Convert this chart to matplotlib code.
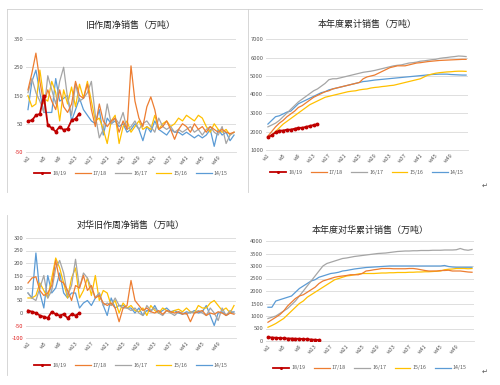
import matplotlib
matplotlib.use("Agg")
import matplotlib.pyplot as plt
import numpy as np
from matplotlib.lines import Line2D

plt.rcParams['font.family'] = ['Noto Sans CJK SC', 'DejaVu Sans']

# 年度标签和颜色
seasons = ['18/19', '17/18', '16/17', '15/16', '14/15']
colors = ['#C00000', '#ED7D31', '#A5A5A5', '#FFC000', '#5B9BD5']
week_labels = ['w%d' % w for w in range(1, 53, 4)]

# 旧作周净销售
weekly_1819 = [60, 62, 80, 85, 150, 45, 35, 22, 40, 28, 32, 62, 68, 86]
weekly_1718 = [170, 230, 300, 200, 120, 170, 130, 100, 170, 110, 90, 120, 200, 150, 140, 190, 100, 40,
               120, 60, 40, 60, 70, 20, 60, 30, 255, 130, 70, 40, 110, 145, 100, 30, 40, 60, 30, -5,
               30, 50, 40, 20, 50, 30, 40, 20, 40, 30, 20, 30, 20, 15, 20]
weekly_1617 = [160, 210, 160, 130, 90, 220, 170, 120, 200, 250, 140, 80, 190, 130, 140, 160, 200, 80,
               0, 30, 120, 50, 70, 50, 90, 30, 40, 60, 30, 50, 60, 40, 20, 70, 40, 30, 40, 20,
               30, 20, 30, 40, 20, 30, 10, 30, 40, 20, 10, 40, -20, 10, 20]
weekly_1516 = [150, 110, 120, 240, 140, 130, 200, 160, 60, 170, 120, 180, 110, 190, 140, 200, 130, 60,
               70, 30, -20, 60, 80, -20, 40, 60, 20, 40, 60, 30, 40, 30, 80, 30, 50, 60, 40, 50,
               70, 60, 80, 70, 60, 80, 70, 40, 20, 50, 30, 20, 30, 10, 20]
weekly_1415 = [100, 200, 240, 160, 90, 90, 90, 210, 130, 140, 150, 60, 100, 140, 100, 80, 60, 50,
               100, 10, 70, 50, 60, 40, 50, 20, 30, 50, 30, -10, 40, 20, 60, 30, 20, 10, 30, 20,
               20, 10, 20, 10, 0, 10, 0, 10, 30, -30, 30, 10, 20, -10, 10]

# 本年度累计销售
cum_1819 = [1700, 1800, 1950, 2050, 2050, 2100, 2100, 2150, 2200, 2200, 2250, 2300, 2350, 2400]
cum_1718 = [1750, 2000, 2250, 2450, 2600, 2800, 2950, 3100, 3300, 3400, 3550, 3700, 3850, 3950, 4050,
            4150, 4200, 4300, 4350, 4400, 4450, 4500, 4550, 4600, 4650, 4850, 4950, 5000, 5050, 5150,
            5250, 5350, 5450, 5500, 5550, 5550, 5550, 5600, 5650, 5700, 5720, 5750, 5780, 5800, 5820,
            5840, 5850, 5860, 5870, 5880, 5890, 5900, 5900]
cum_1617 = [2250, 2350, 2450, 2600, 2800, 3000, 3200, 3400, 3600, 3750, 3900, 4050, 4200, 4300, 4450,
            4600, 4800, 4850, 4850, 4900, 4950, 5000, 5050, 5100, 5150, 5200, 5230, 5260, 5300, 5350,
            5400, 5450, 5500, 5550, 5580, 5600, 5650, 5700, 5720, 5750, 5800, 5820, 5850, 5880, 5900,
            5950, 5980, 6000, 6030, 6050, 6080, 6070, 6050]
cum_1516 = [1650, 1800, 2000, 2200, 2400, 2550, 2700, 2850, 3000, 3150, 3300, 3450, 3550, 3650, 3750,
            3850, 3900, 3950, 4000, 4050, 4100, 4150, 4180, 4200, 4250, 4280, 4300, 4350, 4380, 4400,
            4430, 4450, 4480, 4500, 4550, 4600, 4650, 4700, 4750, 4800, 4850, 4950, 5050, 5100, 5150,
            5180, 5200, 5220, 5230, 5250, 5260, 5260, 5250]
cum_1415 = [2400, 2600, 2800, 2850, 2950, 3050, 3100, 3300, 3500, 3600, 3700, 3800, 3900, 4000, 4100,
            4150, 4250, 4300, 4350, 4400, 4450, 4500, 4550, 4600, 4650, 4700, 4720, 4750, 4780, 4800,
            4820, 4840, 4860, 4880, 4900, 4920, 4940, 4960, 4980, 5000, 5020, 5040, 5060, 5080, 5090,
            5100, 5100, 5100, 5080, 5070, 5060, 5050, 5050]

# 对华旧作周净销售
cn_weekly_1819 = [10, 5, 0, -10, -15, -20, 5, -5, -10, -5, -20, -5, -10, 0]
cn_weekly_1718 = [120, 140, 145, 90, 70, 80, 110, 210, 130, 120, 90, 50, 110, 100, 150, 90, 110, 60,
                  70, 40, 30, 40, 20, -35, 20, 30, 130, 50, 30, 10, 20, 5, 0, 10, -5, 10, 5, 0,
                  5, -5, 0, -35, 0, 5, 10, -10, 0, -5, 5, 0, -10, 0, -5]
cn_weekly_1617 = [80, 60, 50, 100, 150, 60, 90, 180, 210, 160, 70, 110, 215, 100, 160, 140, 100, 60,
                  80, 30, 40, 30, 60, 30, 20, 20, 10, 20, 0, -10, 30, 10, 20, 0, -10, 10, 0, -10,
                  5, 0, -5, 5, 0, 10, 0, -10, 20, 0, -30, 20, -10, 10, 0]
cn_weekly_1516 = [60, 60, 70, 120, 90, 60, 140, 220, 180, 120, 60, 140, 180, 60, 90, 140, 70, 150,
                  50, 90, 80, 30, 50, 0, 40, 20, 30, 10, 5, 20, -10, 30, 10, 0, 20, 10, 0, 10,
                  15, 5, 20, 5, 0, 30, 20, 20, 40, 50, 30, 10, 20, 0, 30]
cn_weekly_1415 = [80, 60, 240, 80, 20, 150, 80, 100, 160, 80, 60, 80, 80, 20, 40, 50, 30, 60,
                  80, 30, -10, 60, 20, 30, 30, 20, 20, 0, 20, -10, 10, 5, 30, 0, 10, 20, 5, 10,
                  0, -5, 5, 0, 10, 0, 5, 30, -10, -50, 0, 5, -10, 0, 5]

# 本年度对华累计销售
cn_cum_1819 = [150, 140, 130, 120, 110, 100, 100, 90, 90, 80, 70, 60, 50, 40]
cn_cum_1718 = [750, 850, 950, 1050, 1200, 1400, 1550, 1700, 1800, 1850, 1950, 2050, 2150, 2300, 2400,
               2450, 2500, 2550, 2580, 2600, 2620, 2650, 2650, 2650, 2700, 2800, 2820, 2850, 2870, 2900,
               2900, 2900, 2890, 2890, 2890, 2890, 2900, 2900, 2880, 2850, 2820, 2800, 2800, 2800, 2820,
               2820, 2830, 2800, 2800, 2800, 2780, 2760, 2750]
cn_cum_1617 = [900, 950, 1000, 1100, 1200, 1300, 1450, 1600, 1800, 2000, 2200, 2400, 2600, 2800, 3000,
               3100, 3150, 3200, 3250, 3300, 3320, 3350, 3380, 3400, 3420, 3440, 3460, 3480, 3500, 3510,
               3520, 3540, 3560, 3580, 3590, 3600, 3600, 3610, 3610, 3620, 3620, 3620, 3630, 3630, 3630,
               3640, 3640, 3640, 3650, 3700, 3650, 3630, 3660]
cn_cum_1516 = [550, 620, 700, 800, 900, 1050, 1200, 1350, 1500, 1600, 1750, 1850, 1950, 2050, 2150,
               2250, 2350, 2450, 2500, 2550, 2600, 2620, 2650, 2680, 2700, 2700, 2700, 2700, 2710, 2720,
               2720, 2730, 2730, 2740, 2740, 2740, 2750, 2750, 2760, 2760, 2770, 2770, 2780, 2790, 2800,
               2850, 2870, 2880, 2900, 2900, 2900, 2890, 2900]
cn_cum_1415 = [1350, 1350, 1600, 1650, 1700, 1750, 1800, 1950, 2100, 2200, 2300, 2400, 2450, 2550, 2600,
               2650, 2700, 2720, 2750, 2800, 2820, 2850, 2880, 2900, 2920, 2940, 2950, 2960, 2970, 2980,
               2990, 3000, 3000, 3000, 3000, 3000, 3000, 3000, 3000, 3000, 3000, 3000, 3000, 3000, 3000,
               3020, 2980, 2960, 2950, 2950, 2950, 2950, 2950]

W, H = 500, 385
fig = plt.figure(figsize=(W / 100, H / 100), dpi=100)


def px_axes(x0, y0, x1, y1):
    # 像素坐标 (左上为原点) 转 figure 坐标
    return fig.add_axes([x0 / W, 1 - y1 / H, (x1 - x0) / W, (y1 - y0) / H])


def draw_panel(ax, title, series, ylim, step, title_y, leg_y):
    for i, (name, vals) in enumerate(zip(seasons, series)):
        x = np.arange(1, len(vals) + 1)
        if i == 0:
            ax.plot(x, vals, color=colors[i], lw=1.3, marker='o', ms=1.8, zorder=10)
        else:
            ax.plot(x, vals, color=colors[i], lw=0.9, zorder=5 - i)
    ax.set_xlim(0.5, 53.5)
    ax.set_ylim(*ylim)
    ticks = np.arange(ylim[0], ylim[1] + step / 2, step)
    ax.set_yticks(ticks)
    ax.set_yticklabels(['%d' % t for t in ticks], fontsize=4.2)
    for lab, t in zip(ax.get_yticklabels(), ticks):
        lab.set_color('#E02020' if t < 0 else '#595959')
    ax.set_xticks(range(1, 53, 4))
    ax.set_xticklabels(week_labels, fontsize=4, color='#595959', rotation=45,
                       ha='right', va='top', rotation_mode='anchor')
    ax.tick_params(length=0, pad=2)
    ax.grid(axis='y', color='#D9D9D9', lw=0.6)
    ax.set_axisbelow(True)
    for s in ['top', 'right', 'left']:
        ax.spines[s].set_visible(False)
    ax.spines['bottom'].set_color('#D9D9D9')
    ax.spines['bottom'].set_linewidth(0.6)
    ax.set_title(title, fontsize=6.5, color='#222222', fontweight='medium', y=1.0, pad=title_y)
    handles = [Line2D([], [], color=colors[0], lw=1.3, marker='o', ms=1.2)]
    handles += [Line2D([], [], color=c, lw=0.9) for c in colors[1:]]
    ax.legend(handles, seasons, loc='center', bbox_to_anchor=(0.5, leg_y), ncol=5,
              fontsize=3.8, frameon=False, handlelength=3, handletextpad=0.4,
              columnspacing=1.6, labelcolor='#595959')


ax1 = px_axes(26, 39, 236, 152)
draw_panel(ax1, '旧作周净销售（万吨）',
           [weekly_1819, weekly_1718, weekly_1617, weekly_1516, weekly_1415],
           (-50, 350), 100, 8, -0.19)

ax2 = px_axes(266, 39, 468, 150)
draw_panel(ax2, '本年度累计销售（万吨）',
           [cum_1819, cum_1718, cum_1617, cum_1516, cum_1415],
           (1000, 7000), 1000, 9, -0.2)

ax3 = px_axes(26, 238, 236, 338)
draw_panel(ax3, '对华旧作周净销售（万吨）',
           [cn_weekly_1819, cn_weekly_1718, cn_weekly_1617, cn_weekly_1516, cn_weekly_1415],
           (-100, 300), 50, 7, -0.27)

ax4 = px_axes(266, 241, 474, 341)
draw_panel(ax4, '本年度对华累计销售（万吨）',
           [cn_cum_1819, cn_cum_1718, cn_cum_1617, cn_cum_1516, cn_cum_1415],
           (0, 4000), 500, 6, -0.27)

# 文档里的图框和换行符
frame = dict(color='#D0D0D0', lw=0.6, transform=fig.transFigure)
fig.add_artist(Line2D([7 / W, 7 / W], [1 - 9 / H, 1 - 192 / H], **frame))
fig.add_artist(Line2D([7 / W, 482 / W], [1 - 9 / H, 1 - 9 / H], **frame))
fig.add_artist(Line2D([248 / W, 248 / W], [1 - 9 / H, 1 - 192 / H], **frame))
fig.add_artist(Line2D([7 / W, 7 / W], [1 - 215 / H, 1 - 375 / H], **frame))
fig.text(485 / W, 1 - 186 / H, '↵', fontsize=5, color='#555555', ha='center', va='center',
         family=['DejaVu Sans'])
fig.text(485 / W, 1 - 372 / H, '↵', fontsize=5, color='#555555', ha='center', va='center',
         family=['DejaVu Sans'])

fig.savefig('out.png', dpi=100, facecolor='white')
